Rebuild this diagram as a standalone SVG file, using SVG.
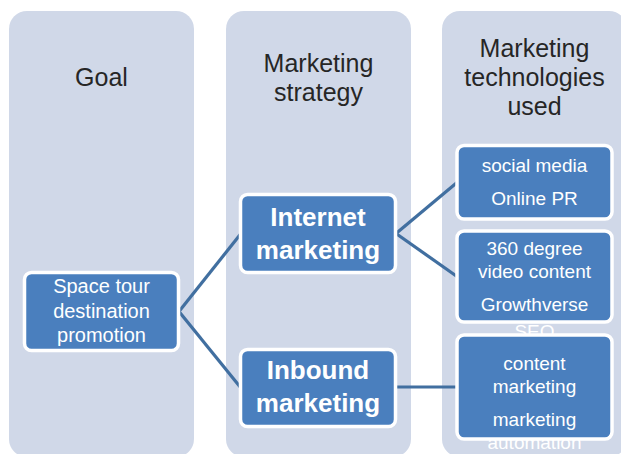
<svg xmlns="http://www.w3.org/2000/svg" width="621" height="454" viewBox="0 0 621 454">
<style>
.col{fill:#d0d8e8;}
.hdr{font-family:"Liberation Sans",Arial,sans-serif;font-size:25px;fill:#262626;text-anchor:middle;}
.box{fill:#4a7fbe;stroke:#ffffff;stroke-width:3.5;}
.t{font-family:"Liberation Sans",Arial,sans-serif;font-size:19px;fill:#ffffff;text-anchor:middle;}
.g{font-size:20px;}
.b{font-family:"Liberation Sans",Arial,sans-serif;font-size:26px;font-weight:bold;fill:#ffffff;text-anchor:middle;}
.conn{fill:none;stroke:#416fa0;stroke-width:3.2;}
</style>
<rect width="621" height="454" fill="#ffffff"/>
<g id="columns">
<rect class="col" x="9" y="11" width="185" height="446" rx="18"/>
<rect class="col" x="226" y="11" width="185" height="446" rx="18"/>
<rect class="col" x="442" y="11" width="185" height="446" rx="18"/>
</g>
<g id="headers">
<text class="hdr" x="101.5" y="86">Goal</text>
<text class="hdr" x="318.5" y="72">Marketing</text>
<text class="hdr" x="318.5" y="101">strategy</text>
<text class="hdr" x="534.5" y="57">Marketing</text>
<text class="hdr" x="534.5" y="86">technologies</text>
<text class="hdr" x="534.5" y="115">used</text>
</g>
<g id="connectors">
<line class="conn" x1="179" y1="311.5" x2="241" y2="233.5"/>
<line class="conn" x1="179" y1="311.5" x2="241" y2="388"/>
<line class="conn" x1="396" y1="233.5" x2="457" y2="182.5"/>
<line class="conn" x1="396" y1="233.5" x2="457" y2="276.5"/>
<line class="conn" x1="396" y1="387" x2="457" y2="387"/>
</g>
<g id="goal">
<rect class="box" x="24.5" y="272.5" width="154" height="78" rx="7"/>
<text class="t g" x="101.5" y="293">Space tour</text>
<text class="t g" x="101.5" y="317.5">destination</text>
<text class="t g" x="101.5" y="342">promotion</text>
</g>
<g id="internet-marketing">
<rect class="box" x="240.5" y="194.5" width="155" height="78" rx="7"/>
<text class="b" x="318" y="226">Internet</text>
<text class="b" x="318" y="259">marketing</text>
</g>
<g id="inbound-marketing">
<rect class="box" x="240.5" y="349.5" width="155" height="77" rx="7"/>
<text class="b" x="318" y="379">Inbound</text>
<text class="b" x="318" y="412">marketing</text>
</g>
<g id="tech-social">
<rect class="box" x="457" y="145.5" width="155" height="73.5" rx="7"/>
<text class="t" x="534.5" y="172">social media</text>
<text class="t" x="534.5" y="205">Online PR</text>
</g>
<g id="tech-video">
<rect class="box" x="457" y="231" width="155" height="91" rx="7"/>
<text class="t" x="534.5" y="255">360 degree</text>
<text class="t" x="534.5" y="278">video content</text>
<text class="t" x="534.5" y="311">Growthverse</text>
</g>
<g id="tech-inbound">
<text class="t" x="534.5" y="338">SEO</text>
<text class="t" x="534.5" y="449">automation</text>
<rect class="box" x="457" y="335" width="155" height="104" rx="7"/>
<text class="t" x="534.5" y="370">content</text>
<text class="t" x="534.5" y="393">marketing</text>
<text class="t" x="534.5" y="426">marketing</text>
</g>
</svg>
